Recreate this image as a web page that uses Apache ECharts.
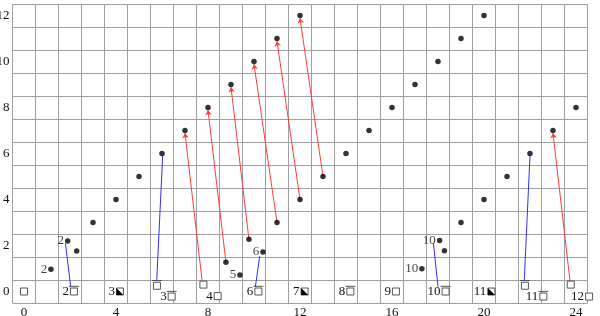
<!DOCTYPE html>
<html>
<head>
<meta charset="utf-8">
<script src="https://cdn.jsdelivr.net/npm/echarts@6/dist/echarts.min.js"></script>
<style>html,body{margin:0;padding:0;background:#fff;}#c{width:600px;height:316px;}</style>
</head>
<body>
<div id="c"></div>
<script>
// tick labels
const xTickLabels = [0, 4, 8, 12, 16, 20, 24];
const yTickLabels = [0, 2, 4, 6, 8, 10, 12];

// plain dots
const dotX = [3,4,5,6,7,8,9,10,11,12, 11,12,13,14,15,16,17,18,19,20, 19,20,21,22,23,24, 2.29,18.28,8.78,9.78];
const dotY = [3,4,5,6,7,8,9,10,11,12, 3,4,5,6,7,8,9,10,11,12, 3,4,5,6,7,8, 1.76,1.77,1.27,2.27];

// labelled dots
const labDotX = [1.17, 1.90, 9.39, 10.39, 17.30, 18.07];
const labDotY = [0.97, 2.20, 0.72, 1.72, 0.99, 2.22];
const labDotText = ['2', '2', '5', '6', '10', '10'];

// square glyph nodes
const sqX = [0, 2.17, 4.17, 5.78, 6.42, 7.80, 8.42, 10.19, 12.20, 14.19, 16.17, 18.33, 20.32, 21.78, 22.58, 23.77, 24.57];
const sqY = [0, 0, 0, 0.25, -0.22, 0.30, -0.20, 0, 0, 0, 0, 0, 0, 0.25, -0.22, 0.30, -0.22];
const sqText = ['', '2', '3', '', '3', '', '4', '6', '7', '8', '9', '10', '11', '', '11', '', '12'];
const sqKind = ['plain','bar','tri','bar','bar','plain','plain','bar','tri','bar','plain','bar','tri','bar','bar','plain','plain'];

// blue segments (from -> to)
const blueX1 = [1.80, 5.77, 10.25, 17.80, 21.75];
const blueY1 = [2.10, 0.47, 1.54, 2.10, 0.47];
const blueX2 = [2.03, 6.03, 10.06, 18.00, 22.00];
const blueY2 = [0.21, 5.93, 0.21, 0.21, 5.93];

// red arrows (from -> to, head at "to")
const redX1 = [7.74, 8.78, 9.78, 11, 12, 13, 23.74];
const redY1 = [0.50, 1.27, 2.27, 3, 4, 5, 0.45];
const redX2 = [7.0, 8.0, 9.0, 10.0, 11.0, 12.0, 23.0];
const redY2 = [6.88, 7.88, 8.88, 9.88, 10.88, 11.88, 6.88];

const FONT = '"Liberation Serif", "DejaVu Serif", serif';
const GRID = '#a0a0a0';

const chart = echarts.init(document.getElementById('c'), null, {renderer: 'canvas'});

const segs = (x1, y1, x2, y2) => x1.map((v, i) => ({coords: [[v, y1[i]], [x2[i], y2[i]]]}));

const option = {
  animation: false,
  grid: {left: 12.5, right: 12.5, top: 4, bottom: 13, show: false, containLabel: false, outerBoundsMode: 'none'},
  xAxis: {
    type: 'value', min: -0.5, max: 24.5, interval: 1,
    axisLine: {show: false}, axisTick: {show: false},
    splitLine: {show: true, lineStyle: {color: GRID, width: 1}},
    axisLabel: {customValues: xTickLabels, color: '#111', fontFamily: FONT, fontSize: 13, margin: 3}
  },
  yAxis: {
    type: 'value', min: -0.5, max: 12.5, interval: 1,
    axisLine: {show: false}, axisTick: {show: false},
    splitLine: {show: true, lineStyle: {color: GRID, width: 1}},
    axisLabel: {customValues: yTickLabels, color: '#111', fontFamily: FONT, fontSize: 13, margin: 3}
  },
  series: [
    {
      type: 'lines', coordinateSystem: 'cartesian2d', z: 3,
      symbol: ['none', 'none'],
      lineStyle: {color: '#3030ff', width: 1, opacity: 1},
      data: segs(blueX1, blueY1, blueX2, blueY2)
    },
    {
      type: 'lines', coordinateSystem: 'cartesian2d', z: 3,
      symbol: ['none', 'arrow'], symbolSize: 5,
      lineStyle: {color: '#ff3b3b', width: 1, opacity: 1},
      data: segs(redX1, redY1, redX2, redY2)
    },
    {
      type: 'scatter', z: 5, symbol: 'circle', symbolSize: 5.5,
      itemStyle: {color: '#000'},
      data: dotX.map((v, i) => [v, dotY[i]])
    },
    {
      type: 'scatter', z: 5, symbol: 'circle', symbolSize: 5.5,
      itemStyle: {color: '#000'},
      label: {show: true, position: 'left', distance: 1, color: '#111', fontFamily: FONT, fontSize: 13,
        formatter: p => labDotText[p.dataIndex]},
      data: labDotX.map((v, i) => [v, labDotY[i]])
    },
    {
      type: 'custom', z: 6, clip: false,
      data: sqX.map((v, i) => [v, sqY[i]]),
      renderItem: function (params, api) {
        const p = api.coord([api.value(0), api.value(1)]);
        const i = params.dataIndex;
        const h = 3.5;
        const ch = [{
          type: 'rect',
          shape: {x: p[0] - h, y: p[1] - h, width: 2 * h, height: 2 * h},
          style: {fill: '#fff', stroke: '#444', lineWidth: 0.9}
        }];
        if (sqKind[i] === 'bar') {
          ch.push({type: 'line', shape: {x1: p[0] - 5, y1: p[1] - 5.2, x2: p[0] + 5, y2: p[1] - 5.2},
            style: {stroke: '#444', lineWidth: 0.9}});
        }
        if (sqKind[i] === 'tri') {
          ch.push({type: 'polygon', shape: {points: [[p[0] - h, p[1] - h], [p[0] - h, p[1] + h], [p[0] + h, p[1] + h]]},
            style: {fill: '#000'}});
        }
        if (sqText[i]) {
          ch.push({type: 'text', style: {text: sqText[i], x: p[0] - 5, y: p[1] + 0.5, align: 'right', verticalAlign: 'middle',
            font: '13px ' + FONT, fill: '#111'}});
        }
        return {type: 'group', children: ch};
      }
    }
  ]
};
chart.setOption(option);
</script>
</body>
</html>
